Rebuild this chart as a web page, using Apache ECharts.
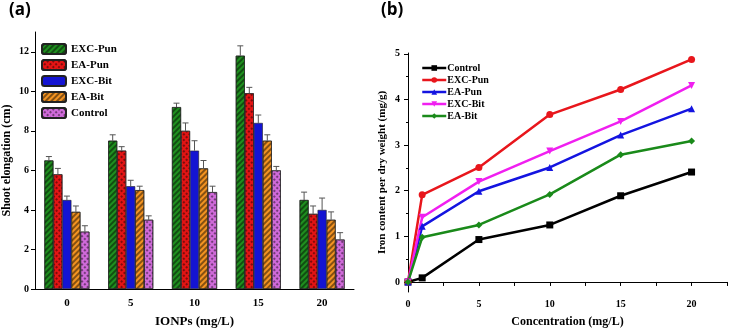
<!DOCTYPE html>
<html>
<head>
<meta charset="utf-8">
<script src="https://cdn.jsdelivr.net/npm/echarts@6/dist/echarts.min.js"></script>
<style>
html,body{margin:0;padding:0;background:#fff;}
#main{width:738px;height:333px;}
</style>
</head>
<body>
<div id="main"></div>
<script>
// (a) shoot elongation
var doseCats = ["0", "5", "10", "15", "20"];
var barNames = ["EXC-Pun", "EA-Pun", "EXC-Bit", "EA-Bit", "Control"];
var excPunVal = [6.5, 7.5, 9.2, 11.8, 4.5];
var excPunErr = [0.2, 0.3, 0.2, 0.5, 0.4];
var eaPunVal = [5.8, 7.0, 8.0, 9.9, 3.8];
var eaPunErr = [0.3, 0.2, 0.4, 0.3, 0.4];
var excBitVal = [4.5, 5.2, 7.0, 8.4, 4.0];
var excBitErr = [0.2, 0.3, 0.5, 0.4, 0.6];
var eaBitVal = [3.9, 5.0, 6.1, 7.5, 3.5];
var eaBitErr = [0.3, 0.2, 0.4, 0.3, 0.4];
var ctrlVal = [2.9, 3.5, 4.9, 6.0, 2.5];
var ctrlErr = [0.3, 0.2, 0.3, 0.2, 0.35];
var yTicksA = [0, 2, 4, 6, 8, 10, 12];

// (b) iron content
var concX = [0, 1, 5, 10, 15, 20];
var lineNames = ["Control", "EXC-Pun", "EA-Pun", "EXC-Bit", "EA-Bit"];
var ironControl = [0, 0.09, 0.93, 1.25, 1.89, 2.41];
var ironExcPun = [0, 1.91, 2.51, 3.67, 4.22, 4.88];
var ironEaPun = [0, 1.22, 1.99, 2.51, 3.22, 3.80];
var ironExcBit = [0, 1.42, 2.20, 2.87, 3.52, 4.31];
var ironEaBit = [0, 0.98, 1.25, 1.92, 2.79, 3.09];
var yTicksB = [0, 1, 2, 3, 4, 5];
var yMinorB = [0.5, 1.5, 2.5, 3.5, 4.5];

var serif = "Liberation Serif";
var barVals = [excPunVal, eaPunVal, excBitVal, eaBitVal, ctrlVal];
var barErrs = [excPunErr, eaPunErr, excBitErr, eaBitErr, ctrlErr];
var barColors = ["#1f8f1f", "#e31414", "#1414d2", "#f39321", "#cf6ad9"];
var hatch = {symbol: 'rect', dashArrayX: [1, 0], dashArrayY: [1.5, 2], rotation: -Math.PI / 4, color: 'rgba(0,0,0,0.45)'};
var cross = {symbol: 'rect', dashArrayX: [2, 1.5], dashArrayY: [2, 1.5], rotation: Math.PI / 4, color: 'rgba(0,0,0,0.45)'};
var barDecals = [hatch, cross, null, hatch, cross];
var barW = 9;

var series = [];
for (var i = 0; i < barNames.length; i++) {
    var st = {color: barColors[i], borderColor: '#222', borderWidth: 0.6};
    if (barDecals[i]) st.decal = barDecals[i];
    series.push({
        name: barNames[i], type: 'bar', xAxisIndex: 0, yAxisIndex: 0,
        barWidth: barW, barGap: '0%', data: barVals[i], itemStyle: st
    });
}
// error bars (upper only)
var errData = [];
for (var s = 0; s < barNames.length; s++) {
    for (var c = 0; c < doseCats.length; c++) {
        errData.push([c, barVals[s][c], barVals[s][c] + barErrs[s][c], s]);
    }
}
series.push({
    type: 'custom', xAxisIndex: 0, yAxisIndex: 0, data: errData, z: 5,
    renderItem: function (params, api) {
        var off = (api.value(3) - 2) * barW;
        var p0 = api.coord([api.value(0), api.value(1)]);
        var p1 = api.coord([api.value(0), api.value(2)]);
        var x = p0[0] + off;
        var st = {stroke: '#555', lineWidth: 1};
        return {type: 'group', children: [
            {type: 'line', shape: {x1: x, y1: p0[1], x2: x, y2: p1[1]}, style: st},
            {type: 'line', shape: {x1: x - 3, y1: p1[1], x2: x + 3, y2: p1[1]}, style: st}
        ]};
    }
});

// line series get a trailing space so the two legends don't share names
var lineVals = [ironControl, ironExcPun, ironEaPun, ironExcBit, ironEaBit];
var lineColors = ["#000000", "#e8161c", "#1414e0", "#f01ff0", "#1a8a1a"];
var lineSymbols = ['rect', 'circle', 'triangle', 'path://M0,0 L10,0 L5,9 Z', 'diamond'];
var lineKeys = [];
for (var k = 0; k < lineNames.length; k++) {
    var pts = [];
    for (var j = 0; j < concX.length; j++) pts.push([concX[j], lineVals[k][j]]);
    lineKeys.push(lineNames[k] + ' ');
    series.push({
        name: lineNames[k] + ' ', type: 'line', xAxisIndex: 1, yAxisIndex: 1,
        data: pts, symbol: lineSymbols[k], symbolSize: 7, showSymbol: true,
        color: lineColors[k], lineStyle: {width: 2.5, color: lineColors[k]},
        itemStyle: {color: lineColors[k]}
    });
}

var axisText = {fontFamily: serif, fontWeight: 'bold', color: '#000'};

var option = {
    animation: false,
    backgroundColor: '#fff',
    grid: [
        {left: 34, top: 32, width: 320, height: 261},
        {left: 408, top: 53, width: 319, height: 240}
    ],
    legend: [
        {
            data: barNames, left: 36, top: 38, orient: 'vertical', itemGap: 4,
            itemWidth: 24, itemHeight: 10,
            textStyle: {fontFamily: serif, fontWeight: 'bold', fontSize: 11, color: '#000'}
        },
        {
            data: lineKeys, left: 416, top: 58, orient: 'vertical', itemGap: 2,
            itemWidth: 24, itemHeight: 7,
            lineStyle: {width: 2.5},
            formatter: function (n) { return n.trim(); },
            textStyle: {fontFamily: serif, fontWeight: 'bold', fontSize: 10, color: '#000', padding: [0, 0, 0, -4]}
        }
    ],
    xAxis: [
        {
            gridIndex: 0, type: 'category', data: doseCats,
            axisLine: {lineStyle: {color: '#000', width: 1}},
            axisTick: {show: false},
            axisLabel: Object.assign({fontSize: 11, margin: 9}, axisText),
            name: 'IONPs (mg/L)', nameLocation: 'middle', nameGap: 26,
            nameTextStyle: Object.assign({fontSize: 13}, axisText)
        },
        {
            gridIndex: 1, type: 'value', min: 0, max: 22.5, interval: 2.5,
            axisLine: {lineStyle: {color: '#000', width: 1}},
            axisTick: {show: true, length: 4, lineStyle: {color: '#000'}},
            axisLabel: Object.assign({fontSize: 10, margin: 7, formatter: function (v) {
                return v % 5 === 0 && v <= 20 ? String(v) : '';
            }}, axisText),
            splitLine: {show: false},
            name: 'Concentration (mg/L)', nameLocation: 'middle', nameGap: 24,
            nameTextStyle: Object.assign({fontSize: 12}, axisText)
        }
    ],
    yAxis: [
        {
            gridIndex: 0, type: 'value', min: 0, max: 13,
            axisLine: {show: true, lineStyle: {color: '#000', width: 1}},
            axisTick: {show: true, length: 4, customValues: yTicksA, lineStyle: {color: '#000'}},
            axisLabel: Object.assign({fontSize: 10, margin: 6, customValues: yTicksA}, axisText),
            splitLine: {show: false},
            name: 'Shoot elongation (cm)', nameLocation: 'middle', nameGap: 22,
            nameTextStyle: Object.assign({fontSize: 12}, axisText)
        },
        {
            gridIndex: 1, type: 'value', min: -0.22, max: 5.02,
            axisLine: {show: true, lineStyle: {color: '#000', width: 1}},
            axisTick: {show: true, length: 4, customValues: yTicksB, lineStyle: {color: '#000'}},
            axisLabel: Object.assign({fontSize: 10, margin: 8, customValues: yTicksB}, axisText),
            splitLine: {show: false},
            name: 'Iron content per dry weight (mg/g)', nameLocation: 'middle', nameGap: 20,
            nameTextStyle: Object.assign({fontSize: 11}, axisText)
        },
        {
            gridIndex: 1, type: 'value', min: -0.22, max: 5.02, position: 'left', offset: 0,
            axisLine: {show: false},
            axisTick: {show: true, length: 2, customValues: yMinorB, lineStyle: {color: '#000'}},
            axisLabel: {show: false},
            splitLine: {show: false}
        }
    ],
    graphic: [
        {type: 'text', left: 9, top: 2, style: {text: '(a)', font: 'bold 17px "Open Sans"', fill: '#000'}},
        {type: 'text', left: 381, top: 2, style: {text: '(b)', font: 'bold 17px "Open Sans"', fill: '#000'}}
    ],
    series: series
};

var chart = echarts.init(document.getElementById('main'));
chart.setOption(option);
</script>
</body>
</html>
